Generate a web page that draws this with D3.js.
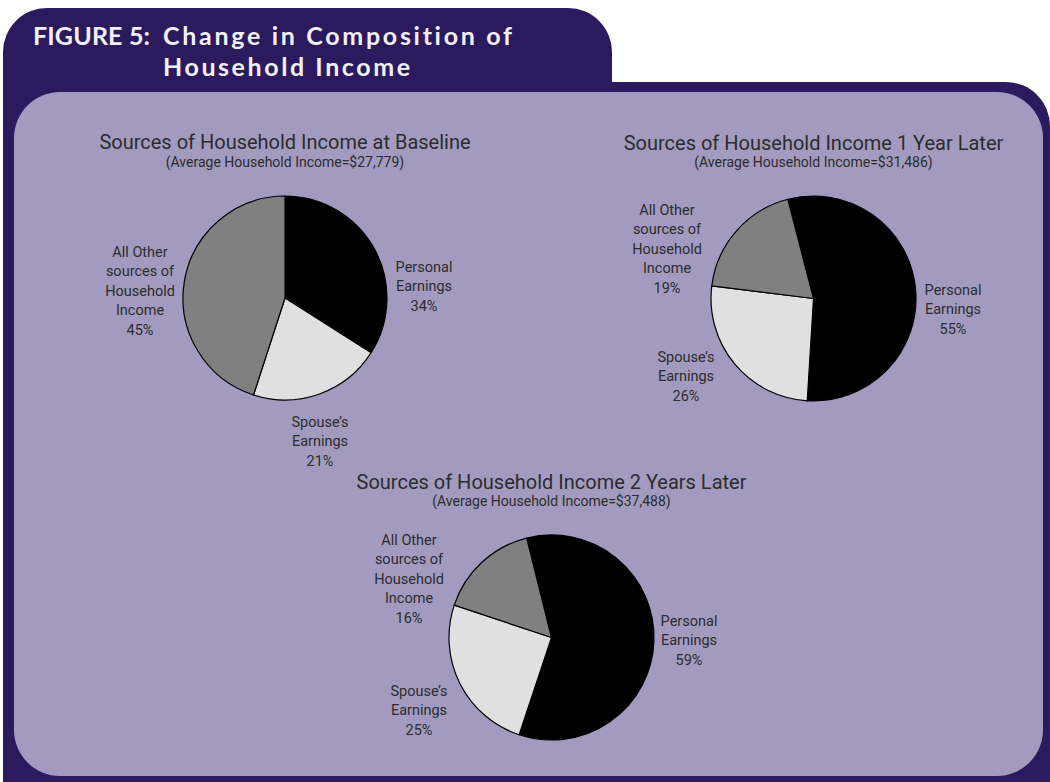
<!DOCTYPE html>
<html>
<head>
<meta charset="utf-8">
<script src="https://cdn.jsdelivr.net/npm/d3@7"></script>
<style>
  html, body { margin: 0; padding: 0; background: #ffffff; }
  svg { display: block; }
  .ttl { font-family: "Liberation Sans Narrow", "Roboto", sans-serif; fill: #2c2c2c; }
  .head { font-variant-ligatures: none; font-feature-settings: "liga" 0; }
</style>
</head>
<body>
<svg id="chart" width="1050" height="782"></svg>
<script>
// Income sources, in drawing order (clockwise)
const sourceKeys = ["personal", "spouse", "other"];
const sourceLabels = [
  ["Personal", "Earnings"],
  ["Spouse\u2019s", "Earnings"],
  ["All Other", "sources of", "Household", "Income"]
];

// Share of household income (%) for each period
const baselineShares = [34, 21, 45];
const year1Shares = [55, 26, 19];
const year2Shares = [59, 25, 16];

const periodTitles = [
  "Sources of Household Income at Baseline",
  "Sources of Household Income 1 Year Later",
  "Sources of Household Income 2 Years Later"
];
const averageIncomes = ["$27,779", "$31,486", "$37,488"];

const headingLines = ["FIGURE 5:", "Change in Composition of", "Household Income"];

// Layout for each pie: centre, radius, rotation and label anchors
const pieLayouts = [
  { cx: 285, cy: 298, r: 102, start: 0,
    labels: { other: [140, 252], personal: [424, 267], spouse: [320, 422] } },
  { cx: 813.5, cy: 298.5, r: 102.5, start: -14.5,
    labels: { other: [667, 210], personal: [953, 290], spouse: [686, 357] } },
  { cx: 551.5, cy: 637.5, r: 102.5, start: -14,
    labels: { other: [409, 540], personal: [689, 621], spouse: [419, 691] } }
];

const sliceColor = d3.scaleOrdinal()
  .domain(sourceKeys)
  .range(["#000000", "#e0e0e0", "#808080"]);

const svg = d3.select("#chart");
const darkPurple = "#2b1a5e";
const panelFill = "#a29bbf";

// Frame: heading tab joined to the outer dark panel
const frame = d3.path();
const R = 44;
frame.moveTo(3, 8 + R);
frame.arcTo(3, 8, 3 + R, 8, R);
frame.lineTo(612 - R, 8);
frame.arcTo(612, 8, 612, 8 + R, R);
frame.lineTo(612, 82);
frame.lineTo(1050 - R, 82);
frame.arcTo(1050, 82, 1050, 82 + R, R);
frame.lineTo(1050, 782);
frame.lineTo(3, 782);
frame.closePath();
svg.append("path").attr("d", frame.toString()).attr("fill", darkPurple);

svg.append("rect")
  .attr("x", 14).attr("y", 92)
  .attr("width", 1029).attr("height", 684)
  .attr("rx", 46).attr("ry", 46)
  .attr("fill", panelFill);

// Heading, letter-spaced to its set widths
const heading = svg.append("g")
  .attr("class", "head")
  .attr("font-family", "Lato, 'DejaVu Sans', sans-serif")
  .attr("font-weight", 700)
  .attr("font-size", 25)
  .attr("fill", "#f3f1f8");
[
  { text: headingLines[0], x: 33, y: 45, w: 117 },
  { text: headingLines[1], x: 163, y: 45, w: 349 },
  { text: headingLines[2], x: 163, y: 76, w: 247 }
].forEach(h => {
  heading.append("text")
    .attr("x", h.x).attr("y", h.y)
    .attr("textLength", h.w)
    .attr("lengthAdjust", "spacing")
    .text(h.text);
});

const periods = [baselineShares, year1Shares, year2Shares];
const lineH = 19.4;

periods.forEach((shares, i) => {
  const L = pieLayouts[i];
  const rows = sourceKeys.map((k, j) => ({ key: k, value: shares[j], lines: sourceLabels[j] }));
  const a0 = L.start * Math.PI / 180;
  const pie = d3.pie().sort(null).value(d => d.value)
    .startAngle(a0).endAngle(a0 + 2 * Math.PI);
  const arc = d3.arc().innerRadius(0).outerRadius(L.r);

  const g = svg.append("g");

  g.append("text").attr("class", "ttl")
    .attr("x", L.cx).attr("y", L.cy - 149)
    .attr("text-anchor", "middle")
    .attr("font-size", 20)
    .text(periodTitles[i]);
  g.append("text").attr("class", "ttl")
    .attr("x", L.cx).attr("y", L.cy - 131.5)
    .attr("text-anchor", "middle")
    .attr("font-size", 14)
    .text("(Average Household Income=" + averageIncomes[i] + ")");

  g.append("g").attr("transform", `translate(${L.cx},${L.cy})`)
    .selectAll("path")
    .data(pie(rows))
    .join("path")
    .attr("d", arc)
    .attr("fill", d => sliceColor(d.data.key))
    .attr("stroke", "#000")
    .attr("stroke-width", 1.2)
    .attr("stroke-linejoin", "round");

  rows.forEach(row => {
    const [x, y] = L.labels[row.key];
    const t = g.append("text").attr("class", "ttl")
      .attr("text-anchor", "middle")
      .attr("font-size", 14.5)
      .attr("dominant-baseline", "central");
    row.lines.concat([row.value + "%"]).forEach((line, n) => {
      t.append("tspan").attr("x", x).attr("y", y + n * lineH).text(line);
    });
  });
});
</script>
</body>
</html>
